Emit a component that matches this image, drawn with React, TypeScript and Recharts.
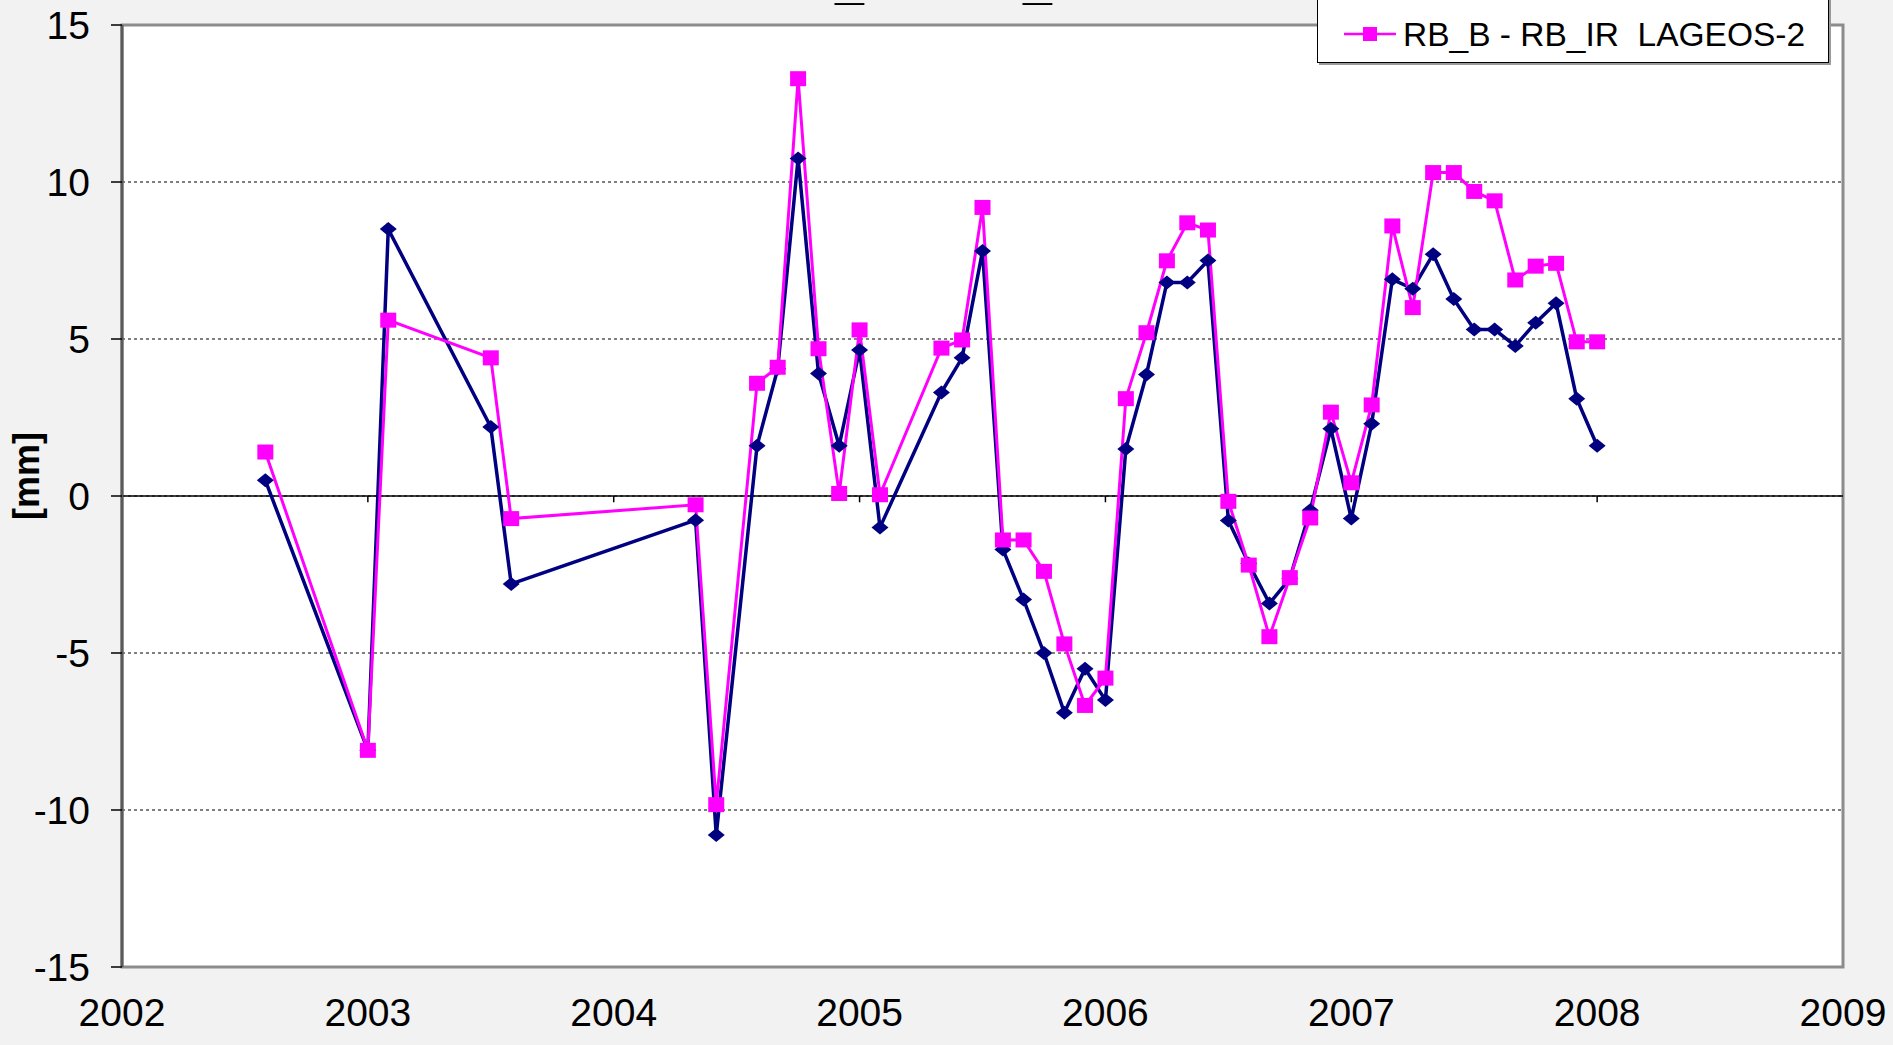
import React from 'react';
import {
  LineChart, Line, XAxis, YAxis, CartesianGrid, ReferenceLine, ReferenceArea,
} from 'recharts';

// decimal years, monthly sampling
const YEARS = [
  2002.583, 2003.0, 2003.083, 2003.5, 2003.583, 2004.333, 2004.417, 2004.583, 2004.667, 2004.75,
  2004.833, 2004.917, 2005.0, 2005.083, 2005.333, 2005.417, 2005.5, 2005.583, 2005.667, 2005.75,
  2005.833, 2005.917, 2006.0, 2006.083, 2006.167, 2006.25, 2006.333, 2006.417, 2006.5, 2006.583,
  2006.667, 2006.75, 2006.833, 2006.917, 2007.0, 2007.083, 2007.167, 2007.25, 2007.333, 2007.417,
  2007.5, 2007.583, 2007.667, 2007.75, 2007.833, 2007.917, 2008.0,
];

// RB_B - RB_IR  LAGEOS-1 (navy diamonds)
const LAGEOS1 = [
  0.5, -8.1, 8.5, 2.2, -2.8, -0.77, -10.8, 1.6, 4.05, 10.75,
  3.9, 1.6, 4.65, -1.0, 3.3, 4.4, 7.8, -1.7, -3.3, -5.0,
  -6.9, -5.5, -6.5, 1.5, 3.87, 6.8, 6.8, 7.5, -0.78, -2.15,
  -3.42, -2.63, -0.45, 2.14, -0.72, 2.3, 6.9, 6.6, 7.7, 6.27,
  5.3, 5.3, 4.78, 5.52, 6.14, 3.1, 1.6,
];

// RB_B - RB_IR  LAGEOS-2 (magenta squares)
const LAGEOS2 = [
  1.4, -8.1, 5.6, 4.4, -0.72, -0.28, -9.83, 3.59, 4.1, 13.29,
  4.69, 0.08, 5.29, 0.04, 4.71, 4.97, 9.19, -1.4, -1.4, -2.4,
  -4.71, -6.67, -5.8, 3.1, 5.2, 7.49, 8.7, 8.47, -0.17, -2.2,
  -4.48, -2.6, -0.7, 2.67, 0.42, 2.9, 8.6, 6.0, 10.3, 10.3,
  9.7, 9.4, 6.88, 7.32, 7.41, 4.91, 4.91,
];

const X_TICKS = [2002, 2003, 2004, 2005, 2006, 2007, 2008, 2009];
const Y_TICKS = [-15, -10, -5, 0, 5, 10, 15];

const NAVY = '#000080';
const MAGENTA = '#ff00ff';
const FONT = '"Liberation Sans", Arial, sans-serif';

const rows = YEARS.map((t, i) => ({ t, l1: LAGEOS1[i], l2: LAGEOS2[i] }));

const Diamond = (p: any) => {
  const { cx, cy, index } = p;
  if (cx == null || cy == null) return <g key={`d${index}`} />;
  return (
    <path
      key={`d${index}`}
      d={`M${cx},${cy - 7} L${cx + 8.5},${cy} L${cx},${cy + 7} L${cx - 8.5},${cy} Z`}
      fill={NAVY}
    />
  );
};

const Square = (p: any) => {
  const { cx, cy, index } = p;
  if (cx == null || cy == null) return <g key={`s${index}`} />;
  return <rect key={`s${index}`} x={cx - 8} y={cy - 7.5} width={16} height={15} fill={MAGENTA} />;
};

// legend box, its top (first entry) runs off the page like in the original
const LegendBox = () => (
  <div
    style={{
      position: 'absolute', left: 1317, top: -10, width: 510, height: 71,
      background: '#fff', border: '1.5px solid #000', boxShadow: '2px 2px 0 #9a9a9a',
      fontFamily: FONT,
    }}
  >
    <svg width={60} height={20} style={{ position: 'absolute', left: 26, top: 33 }}>
      <line x1={0} y1={10} x2={52} y2={10} stroke={MAGENTA} strokeWidth={2.5} />
      <rect x={19} y={3} width={14} height={14} fill={MAGENTA} />
    </svg>
    <div style={{ position: 'absolute', left: 85, top: 25, fontSize: 33.5, lineHeight: '38px', whiteSpace: 'pre', color: '#000' }}>
      {'RB_B - RB_IR  LAGEOS-2'}
    </div>
  </div>
);

export default function App() {
  return (
    <div
      style={{
        position: 'absolute', left: 0, top: 0, width: 1893, height: 1045,
        background: '#f2f2f2', overflow: 'hidden', fontFamily: FONT,
      }}
    >
      <LineChart width={1893} height={1045} data={rows} margin={{ top: 25, right: 50, bottom: 0, left: 0 }}>
        <CartesianGrid vertical={false} horizontalValues={Y_TICKS} stroke="#000" strokeDasharray="3 3" fill="#fff" fillOpacity={1} />
        <ReferenceArea x1={2002} x2={2009} y1={-15} y2={15} fill="none" stroke="#8c8c8c" strokeWidth={3} />
        <XAxis
          type="number"
          dataKey="t"
          domain={[2002, 2009]}
          ticks={X_TICKS}
          allowDecimals={false}
          axisLine={false}
          tickLine={false}
          tickSize={0}
          tickMargin={31}
          height={78}
          tick={{ fill: '#000', fontSize: 39, fontFamily: FONT }}
        />
        <YAxis
          type="number"
          domain={[-15, 15]}
          ticks={Y_TICKS}
          width={122}
          axisLine={{ stroke: '#5a5a5a', strokeWidth: 3 }}
          tickLine={{ stroke: '#000', strokeWidth: 1.5 }}
          tickSize={11}
          tickMargin={21}
          tick={{ fill: '#000', fontSize: 39, fontFamily: FONT }}
          label={{
            content: () => (
              <text
                x={26} y={476} transform="rotate(-90 26 476)" textAnchor="middle"
                dominantBaseline="central" fontSize={36} fontWeight="bold" fontFamily={FONT} fill="#000"
              >
                [mm]
              </text>
            ),
          }}
        />
        <ReferenceLine y={0} stroke="#000" strokeWidth={1.5} />
        {X_TICKS.slice(1, -1).map((yr) => (
          <ReferenceLine key={yr} segment={[{ x: yr, y: 0 }, { x: yr, y: -0.2 }]} stroke="#000" strokeWidth={1.5} />
        ))}
        <Line
          type="linear" dataKey="l1" name="RB_B - RB_IR  LAGEOS-1" stroke={NAVY} strokeWidth={3.5}
          dot={Diamond} activeDot={false} isAnimationActive={false}
        />
        <Line
          type="linear" dataKey="l2" name="RB_B - RB_IR  LAGEOS-2" stroke={MAGENTA} strokeWidth={3}
          dot={Square} activeDot={false} isAnimationActive={false}
        />
      </LineChart>
      {/* chart title, cut off by the top edge */}
      <div
        style={{
          position: 'absolute', left: 760, top: -45, fontSize: 52, fontWeight: 'bold',
          lineHeight: '52px', whiteSpace: 'pre', color: '#000',
        }}
      >
        RB_B - RB_IR
      </div>
      <LegendBox />
    </div>
  );
}
